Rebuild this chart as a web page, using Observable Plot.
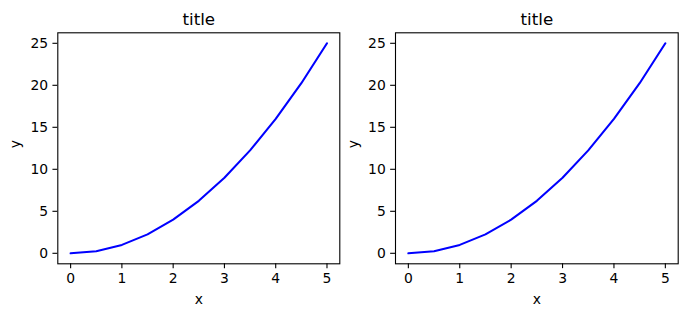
<!DOCTYPE html>
<html>
<head>
<meta charset="utf-8">
<script src="https://cdn.jsdelivr.net/npm/d3@7"></script>
<script src="https://cdn.jsdelivr.net/npm/@observablehq/plot@0.6"></script>
<style>
  html, body { margin: 0; padding: 0; background: white; }
  #wrap { display: flex; width: 686px; height: 316px; }
</style>
</head>
<body>
<div id="wrap"></div>
<script>
const xValues = [0, 0.5, 1, 1.5, 2, 2.5, 3, 3.5, 4, 4.5, 5];
const yValues = [0, 0.25, 1, 2.25, 4, 6.25, 9, 12.25, 16, 20.25, 25];
const xTicks = [0, 1, 2, 3, 4, 5];
const yTicks = [0, 5, 10, 15, 20, 25];
const titles = ["title", "title"];
const xLabel = "x";
const yLabel = "y";

const data = xValues.map((x, i) => ({x, y: yValues[i]}));

function makeChart(title, ml, mr) {
  return Plot.plot({
    width: 343,
    height: 316,
    marginLeft: ml,
    marginRight: mr,
    marginTop: 32.3,
    marginBottom: 52.7,
    style: {fontFamily: "DejaVu Sans", fontSize: "13.9px", color: "black", background: "white", overflow: "visible"},
    x: {domain: [-0.25, 5.25]},
    y: {domain: [-1.25, 26.25]},
    marks: [
      Plot.line(data, {x: "x", y: "y", stroke: "#0000ff", strokeWidth: 2.08}),
      Plot.frame({stroke: "black", strokeWidth: 1.1}),
      Plot.axisX({ticks: xTicks, tickSize: 4.86, tickPadding: 4.86, strokeWidth: 1.1, label: null, tickFormat: d => String(d)}),
      Plot.axisY({ticks: yTicks, tickSize: 4.86, tickPadding: 4.86, strokeWidth: 1.1, label: null, tickFormat: d => String(d)}),
      Plot.text([xLabel], {text: d => d, frameAnchor: "bottom", dy: 40, lineAnchor: "bottom"}),
      Plot.text([yLabel], {text: d => d, frameAnchor: "left", dx: -42, rotate: -90}),
      Plot.text([title], {text: d => d, frameAnchor: "top", dy: -8.3, lineAnchor: "bottom", fontSize: 16.7})
    ]
  });
}

const wrap = document.getElementById("wrap");
wrap.appendChild(makeChart(titles[0], 57.3, 3.7));
wrap.appendChild(makeChart(titles[1], 52, 8.3));
</script>
</body>
</html>
